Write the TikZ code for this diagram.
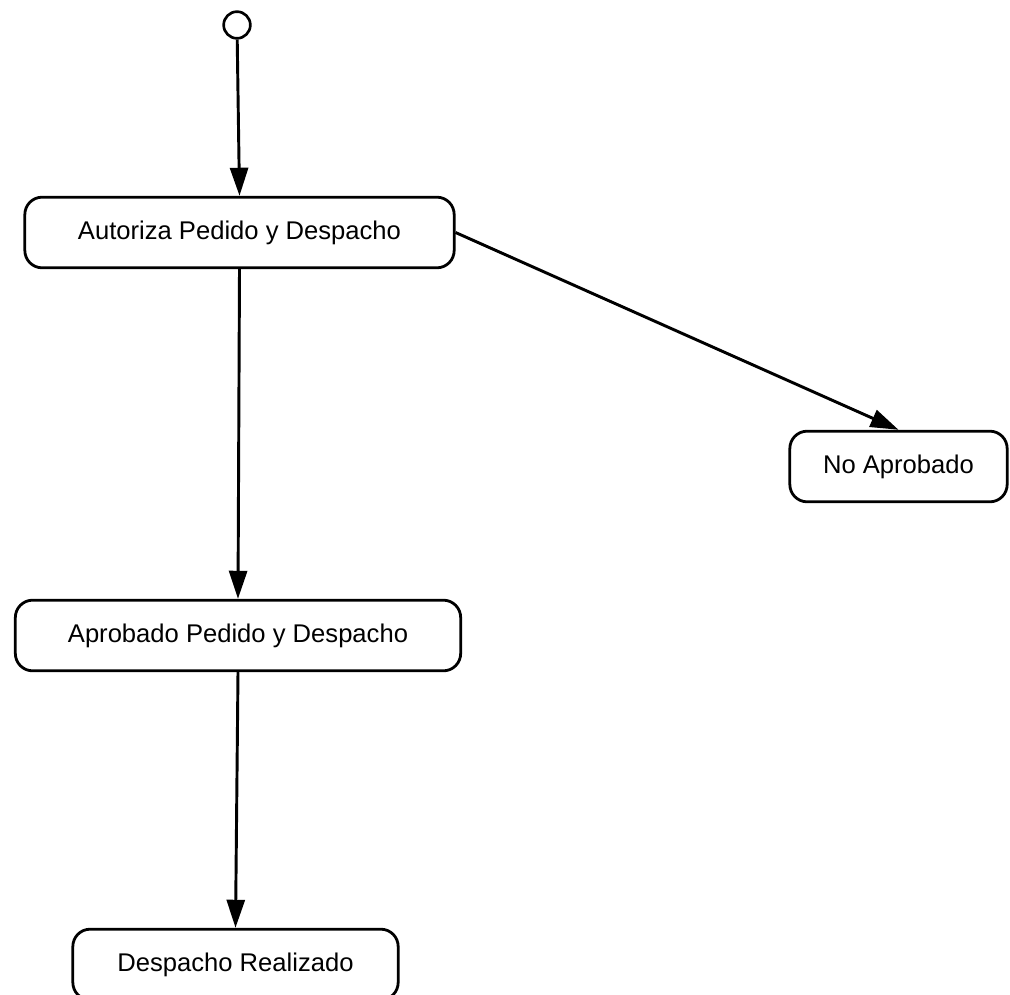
\documentclass[tikz,border=0pt]{standalone}
\usepackage{fontspec}
\setmainfont{Liberation Sans}
\usetikzlibrary{arrows.meta}
\begin{document}
\begin{tikzpicture}[x=0.75pt,y=-0.75pt,
  state/.style={draw=black,line width=2.1pt,rounded corners=13pt,minimum height=53pt,inner sep=0pt,
    font=\fontsize{19.2}{23}\selectfont},
  flow/.style={line width=2.2pt,-{Triangle[length=21pt,width=13.5pt]}},
  startnode/.style={circle,draw=black,line width=2pt,minimum size=20pt,inner sep=0pt}]
\clip (0,0) rectangle (1010,995);
\fill[white] (0,0) rectangle (1010,995);
\node[startnode] (s) at (237,25) {};
\node[state,minimum width=322pt] (b1) at (239.5,232.5) {Autoriza Pedido y Despacho};
\node[state,minimum width=163pt] (na) at (898.5,466.5) {No Aprobado};
\node[state,minimum width=334pt] (ap) at (238,635.5) {Aprobado Pedido y Despacho};
\node[state,minimum width=244pt] (dr) at (235.5,964.5) {Despacho Realizado};
\draw[flow] (s) -- (b1.north);
\draw[flow] (b1.east) -- (na.north);
\draw[flow] (b1.south) -- (ap.north);
\draw[flow] (ap.south) -- (dr.north);
\end{tikzpicture}
\end{document}
